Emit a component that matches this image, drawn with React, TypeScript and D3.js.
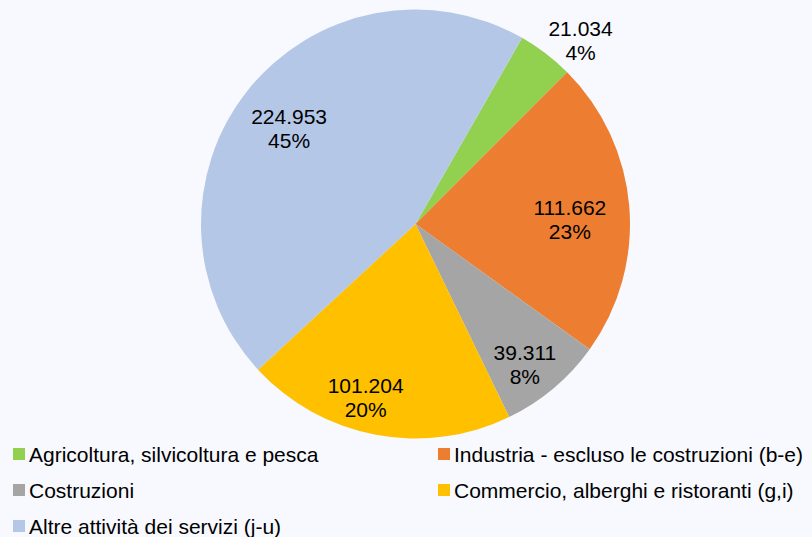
import React from "react";
import * as d3 from "d3";

// sectors (ATECO) and their values, in chart order
const categories = [
  "Agricoltura, silvicoltura e pesca",
  "Industria - escluso le costruzioni (b-e)",
  "Costruzioni",
  "Commercio, alberghi e ristoranti (g,i)",
  "Altre attività dei servizi (j-u)",
];
const values = [21034, 111662, 39311, 101204, 224953];
const colors = ["#92D050", "#ED7D31", "#A5A5A5", "#FFC000", "#B4C7E7"];

const width = 812;
const height = 537;
const cx = 415.5;
const cy = 224;
const radius = 214.5;
const firstAngle = (29.8 * Math.PI) / 180;

// label placement (Excel "best fit"): [angle nudge in degrees, radius factor]
const labelLayout: [number, number][] = [
  [4.6, 1.15],
  [3, 0.72],
  [2.2, 0.83],
  [5.4, 0.84],
  [-1.3, 0.74],
];

const fmt = d3.formatLocale({ decimal: ",", thousands: ".", grouping: [3], currency: ["€", ""] }).format(",d");
const font = "'Liberation Sans', Arial, sans-serif";

// Excel rounds pie percentages so they add up to 100 (largest remainder)
function roundedPercents(vals: number[]) {
  const total = d3.sum(vals);
  const raw = vals.map((v) => (v / total) * 100);
  const out = raw.map(Math.floor);
  let left = 100 - d3.sum(out);
  const order = d3.range(vals.length).sort((a, b) => (raw[b] - out[b]) - (raw[a] - out[a]));
  for (const i of order) {
    if (left <= 0) break;
    out[i] += 1;
    left--;
  }
  return out;
}

export default function App() {
  const pcts = roundedPercents(values);
  const pie = d3
    .pie<number>()
    .sort(null)
    .value((d) => d)
    .startAngle(firstAngle)
    .endAngle(firstAngle + 2 * Math.PI);
  const arcs = pie(values);
  const arcGen = d3.arc<d3.PieArcDatum<number>>().innerRadius(0).outerRadius(radius);

  const legendRows = [
    { i: 0, x: 13, y: 454 },
    { i: 1, x: 438, y: 454 },
    { i: 2, x: 13, y: 490 },
    { i: 3, x: 438, y: 490 },
    { i: 4, x: 13, y: 526 },
  ];

  return (
    <svg
      width={width}
      height={height}
      style={{ position: "absolute", left: 0, top: 0, background: "#F7F9FE" }}
      fontFamily={font}
    >
      <g transform={`translate(${cx},${cy})`}>
        {arcs.map((a, i) => (
          <path key={i} d={arcGen(a) || ""} fill={colors[i]} />
        ))}
        {arcs.map((a, i) => {
          const [nudge, rf] = labelLayout[i];
          const ang = (a.startAngle + a.endAngle) / 2 + (nudge * Math.PI) / 180;
          const r = radius * rf;
          const x = r * Math.sin(ang);
          const y = -r * Math.cos(ang);
          return (
            <text key={i} x={x} textAnchor="middle" fontSize={21} fill="#000">
              <tspan x={x} y={y - 12 + 7.5}>{fmt(values[i])}</tspan>
              <tspan x={x} y={y + 12 + 7.5}>{pcts[i] + "%"}</tspan>
            </text>
          );
        })}
      </g>
      <g>
        {legendRows.map(({ i, x, y }) => (
          <g key={i}>
            <rect x={x} y={y - 6} width={12} height={12} fill={colors[i]} />
            <text x={x + 16} y={y + 7.5} fontSize={21} fill="#000">
              {categories[i]}
            </text>
          </g>
        ))}
      </g>
    </svg>
  );
}
